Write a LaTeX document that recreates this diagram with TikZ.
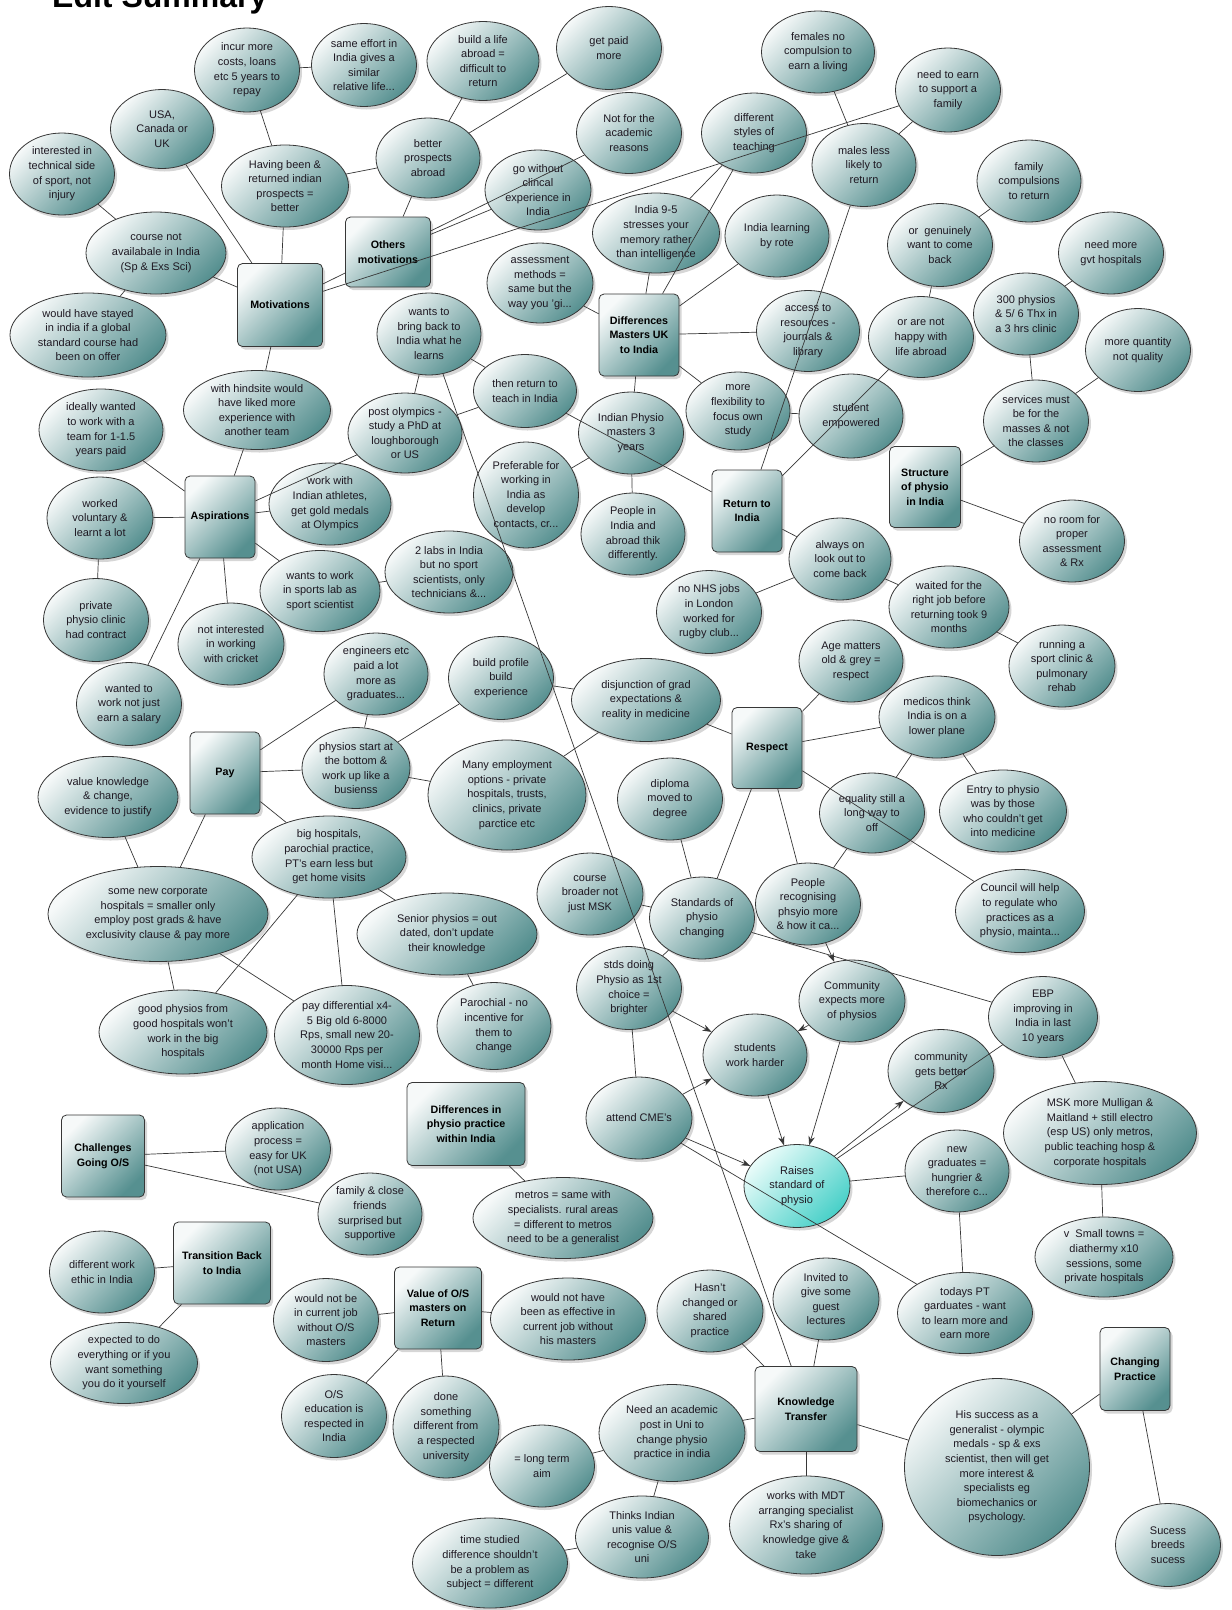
\documentclass[tikz,border=0pt]{standalone}
\usepackage{fontspec}
\setmainfont{Liberation Sans}
\usetikzlibrary{shapes.geometric,shadows,arrows.meta}
\definecolor{gA}{RGB}{246,249,249}
\definecolor{gB}{RGB}{190,213,213}
\definecolor{gC}{RGB}{86,144,144}
\definecolor{cA}{RGB}{234,252,250}
\definecolor{cB}{RGB}{170,240,234}
\definecolor{cC}{RGB}{72,208,200}
\definecolor{lnC}{RGB}{55,55,55}
\definecolor{txC}{RGB}{30,24,34}
\tikzset{
 shd/.style={drop shadow={shadow xshift=2.5pt,shadow yshift=-3pt,opacity=0.16,fill=black}},
 ell/.style={ellipse,draw=lnC,line width=0.8pt,inner sep=0pt,top color=gA,middle color=gB,bottom color=gC,shading angle=45,shd},
 cyell/.style={ellipse,draw=lnC,line width=0.8pt,inner sep=0pt,top color=cA,middle color=cB,bottom color=cC,shading angle=45,shd},
 bx/.style={rectangle,rounded corners=5pt,draw=lnC,line width=0.8pt,inner sep=0pt,top color=gA,middle color=gB,bottom color=gC,shading angle=45,shd},
 txt/.style={align=center,inner sep=0pt,text=txC,font=\fontsize{11pt}{14.6pt}\selectfont},
 btxt/.style={align=center,inner sep=0pt,text=black,font=\fontsize{10.7pt}{14.6pt}\selectfont\bfseries},
 ln/.style={draw=lnC,line width=0.7pt},
 ar/.style={draw=lnC,line width=0.7pt,-{Stealth[length=9pt,width=6.5pt]}},
}
\newcommand\mkell[6]{\node[ell,minimum width=#4pt,minimum height=#5pt] (#1) at (#2,#3) {};\node[txt] (#1t) at (#2,#3) {#6};}
\newcommand\mkcy[6]{\node[cyell,minimum width=#4pt,minimum height=#5pt] (#1) at (#2,#3) {};\node[txt] (#1t) at (#2,#3) {#6};}
\newcommand\mkbox[6]{\node[bx,minimum width=#4pt,minimum height=#5pt] (#1) at (#2,#3) {};\node[btxt] (#1t) at (#2,#3) {#6};}
\begin{document}
\begin{tikzpicture}[x=1pt,y=-1pt]
\useasboundingbox (0,0) rectangle (1232,1610);
\clip (0,0) rectangle (1232,1610);
\fill[white] (0,0) rectangle (1232,1610);
\node[anchor=base west,inner sep=0pt,font=\fontsize{32pt}{38pt}\selectfont\bfseries] (title) at (52,7) {Edit Summary};
% Motivations
\mkbox{mot}{280}{305}{85}{83}{Motivations}
\mkbox{oth}{388}{252}{85}{70}{Others\\motivations}
\mkell{incur}{247}{70}{105}{84}{incur more\\costs, loans\\etc 5 years to\\repay}
\mkell{same}{364}{65}{105}{83}{same effort in\\India gives a\\similar\\relative life...}
\mkell{usa}{162}{129}{103}{79}{USA,\\Canada or\\UK}
\mkell{inter}{62}{174}{105}{82}{interested in\\technical side\\of sport, not\\injury}
\mkell{having}{285}{186}{127}{82}{Having been \&\\returned indian\\prospects =\\better}
\mkell{course}{156}{253}{140}{82}{course not\\availabale in India\\(Sp \& Exs Sci)}
\mkell{stayed}{88}{335}{156}{84}{would have stayed\\in india if a global\\standard course had\\been on offer}
\mkell{hind}{257}{410}{147}{79}{with hindsite would\\have liked more\\experience with\\another team}
\mkell{better}{428}{158}{104}{80}{better\\prospects\\abroad}
\mkell{build}{483}{61}{112}{79}{build a life\\abroad =\\difficult to\\return}
\mkell{paid}{609}{48}{105}{83}{get paid\\more}
\mkell{notacad}{629}{133}{105}{81}{Not for the\\academic\\reasons}
\mkell{gowo}{538}{190}{106}{80}{go without\\clincal\\experience in\\India}
% Differences
\mkbox{diff}{639}{335}{80}{82}{Differences\\Masters UK\\to India}
\mkell{styles}{754}{133}{105}{80}{different\\styles of\\teaching}
\mkell{ind95}{656}{233}{127}{80}{India 9-5\\stresses your\\memory rather\\than intelligence}
\mkell{rote}{777}{236}{104}{82}{India learning\\by rote}
\mkell{assess}{540}{283}{106}{80}{assessment\\methods =\\same but the\\way you 'gi...}
\mkell{access}{808}{331}{103}{81}{access to\\resources -\\journals \&\\library}
\mkell{flex}{738}{411}{104}{78}{more\\flexibility to\\focus own\\study}
\mkell{wants}{429}{334}{104}{82}{wants to\\bring back to\\India what he\\learns}
\mkell{thenret}{525}{391}{103}{73}{then return to\\teach in India}
% right top
\mkell{fem}{818}{52}{113}{82}{females no\\compulsion to\\earn a living}
\mkell{earn}{948}{90}{105}{84}{need to earn\\to support a\\family}
\mkell{males}{864}{165}{104}{83}{males less\\likely to\\return}
\mkell{famc}{1029}{181}{104}{82}{family\\compulsions\\to return}
\mkell{genu}{940}{245}{105}{83}{or\ \ genuinely\\want to come\\back}
\mkell{nothappy}{921}{337}{105}{81}{or are not\\happy with\\life abroad}
\mkell{gvt}{1111}{253}{105}{82}{need more\\gvt hospitals}
\mkell{pthree}{1026}{314}{105}{82}{300 physios\\\& 5/ 6 Thx in\\a 3 hrs clinic}
\mkell{quant}{1138}{350}{105}{83}{more quantity\\not quality}
\mkell{serv}{1036}{421}{105}{82}{services must\\be for the\\masses \& not\\the classes}
\mkell{stud}{851}{416}{104}{84}{student\\empowered}
\mkbox{struct}{925}{487}{71}{81}{Structure\\of physio\\in India}
\mkell{noroom}{1072}{541}{105}{82}{no room for\\proper\\assessment\\\& Rx}
% Aspirations
\mkell{ideal}{101}{430}{124}{82}{ideally wanted\\to work with a\\team for 1-1.5\\years paid}
\mkbox{asp}{220}{517}{70}{82}{Aspirations}
\mkell{volun}{100}{518}{106}{82}{worked\\voluntary \&\\learnt a lot}
\mkell{gold}{330}{504}{122}{82}{work with\\Indian athletes,\\get gold medals\\at Olympics}
\mkell{privc}{96}{620}{105}{83}{private\\physio clinic\\had contract}
\mkell{cricket}{231}{644}{106}{82}{not interested\\in working\\with cricket}
\mkell{lab}{320}{591}{120}{81}{wants to work\\in sports lab as\\sport scientist}
\mkell{salary}{129}{704}{105}{83}{wanted to\\work not just\\earn a salary}
\mkell{postol}{405}{433}{114}{80}{post olympics -\\study a PhD at\\loughborough\\or US}
\mkell{labstwo}{449}{572}{128}{82}{2 labs in India\\but no sport\\scientists, only\\technicians \&...}
% Return
\mkell{indphys}{631}{433}{105}{82}{Indian Physio\\masters 3\\years}
\mkell{pref}{526}{495}{105}{106}{Preferable for\\working in\\India as\\develop\\contacts, cr...}
\mkell{people}{633}{534}{104}{82}{People in\\India and\\abroad thik\\differently.}
\mkbox{ret}{747}{511}{70}{82}{Return to\\India}
\mkell{always}{840}{559}{102}{82}{always on\\look out to\\come back}
\mkell{nhs}{709}{612}{105}{83}{no NHS jobs\\in London\\worked for\\rugby club...}
\mkell{waited}{949}{607}{120}{82}{waited for the\\right job before\\returning took 9\\months}
\mkell{running}{1062}{666}{106}{82}{running a\\sport clinic \&\\pulmonary\\rehab}
% Pay
\mkell{engin}{376}{674}{104}{82}{engineers etc\\paid a lot\\more as\\graduates...}
\mkbox{pay}{225}{773}{70}{82}{Pay}
\mkell{pstart}{356}{768}{108}{81}{physios start at\\the bottom \&\\work up like a\\busienss}
\mkell{value}{108}{797}{140}{81}{value knowledge\\\& change,\\evidence to justify}
\mkell{bighosp}{329}{857}{154}{82}{big hospitals,\\parochial practice,\\PT's earn less but\\get home visits}
\mkell{corp}{158}{914}{220}{95}{some new corporate\\hospitals = smaller only\\employ post grads \& have\\exclusivity clause \& pay more}
\mkell{senior}{447}{934}{180}{82}{Senior physios = out\\dated, don't update\\their knowledge}
\mkell{goodph}{183}{1032}{168}{84}{good physios from\\good hospitals won't\\work in the big\\hospitals}
\mkell{paydiff}{347}{1035}{145}{99}{pay differential x4-\\5 Big old 6-8000\\Rps, small new 20-\\30000 Rps per\\month Home visi...}
\mkell{parochial}{494}{1026}{114}{87}{Parochial - no\\incentive for\\them to\\change}
\mkell{buildprof}{501}{678}{105}{83}{build profile\\build\\experience}
\mkell{disj}{646}{700}{149}{83}{disjunction of grad\\expectations \&\\reality in medicine}
\mkell{many}{507}{795}{158}{110}{Many employment\\options - private\\hospitals, trusts,\\clinics, private\\parctice etc}
% Respect
\mkbox{resp}{767}{748}{70}{81}{Respect}
\mkell{age}{851}{661}{104}{82}{Age matters\\old \& grey =\\respect}
\mkell{medicos}{937}{717}{116}{82}{medicos think\\India is on a\\lower plane}
\mkell{entry}{1003}{811}{127}{82}{Entry to physio\\was by those\\who couldn't get\\into medicine}
\mkell{equal}{872}{813}{105}{80}{equality still a\\long way to\\off}
\mkell{council}{1020}{911}{129}{83}{Council will help\\to regulate who\\practices as a\\physio, mainta...}
\mkell{diploma}{670}{799}{105}{82}{diploma\\moved to\\degree}
\mkell{std}{702}{918}{105}{82}{Standards of\\physio\\changing}
\mkell{broad}{590}{894}{106}{82}{course\\broader not\\just MSK}
\mkell{recog}{808}{904}{105}{82}{People\\recognising\\phsyio more\\\& how it ca...}
\mkell{stds}{629}{988}{105}{83}{stds doing\\Physio as 1st\\choice =\\brighter}
\mkell{comm}{852}{1001}{106}{82}{Community\\expects more\\of physios}
\mkell{ebp}{1043}{1017}{109}{81}{EBP\\improving in\\India in last\\10 years}
\mkell{students}{755}{1055}{104}{82}{students\\work harder}
\mkell{cme}{639}{1118}{106}{82}{attend CME's}
\mkell{gets}{941}{1071}{106}{83}{community\\gets better\\Rx}
\mkcy{raises}{797}{1186}{106}{83}{Raises\\standard of\\physio}
\mkell{msk}{1100}{1133}{193}{103}{MSK more Mulligan \&\\Maitland + still electro\\(esp US) only metros,\\public teaching hosp \&\\corporate hospitals}
\mkell{newgrad}{957}{1171}{104}{82}{new\\graduates =\\hungrier \&\\therefore c...}
\mkell{small}{1104}{1257}{138}{80}{v\ \ Small towns =\\diathermy x10\\sessions, some\\private hospitals}
\mkell{todays}{965}{1313}{135}{81}{todays PT\\garduates - want\\to learn more and\\earn more}
% bottom left
\mkbox{chal}{103}{1156}{83}{82}{Challenges\\Going O/S}
\mkell{applic}{278}{1149}{105}{82}{application\\process =\\easy for UK\\(not USA)}
\mkell{family}{370}{1214}{104}{82}{family \& close\\friends\\surprised but\\supportive}
\mkbox{dpi}{466}{1124}{118}{83}{Differences in\\physio practice\\within India}
\mkell{metros}{563}{1218}{180}{81}{metros = same with\\specialists. rural areas\\= different to metros\\need to be a generalist}
\mkbox{trans}{222}{1263}{97}{82}{Transition Back\\to India}
\mkell{ethic}{102}{1272}{105}{82}{different work\\ethic in India}
\mkell{expect}{124}{1363}{147}{81}{expected to do\\everything or if you\\want something\\you do it yourself}
\mkbox{valos}{438}{1308}{87}{82}{Value of O/S\\masters on\\Return}
\mkell{wnb}{326}{1320}{105}{83}{would not be\\in current job\\without O/S\\masters}
\mkell{wnh}{568}{1319}{155}{82}{would not have\\been as effective in\\current job without\\his masters}
\mkell{osedu}{334}{1416}{105}{83}{O/S\\education is\\respected in\\India}
\mkell{done}{446}{1427}{106}{102}{done\\something\\different from\\a respected\\university}
\mkell{longterm}{542}{1466}{105}{82}{= long term\\aim}
\mkell{need}{672}{1433}{146}{97}{Need an academic\\post in Uni to\\change physio\\practice in india}
\mkell{thinks}{642}{1537}{133}{82}{Thinks Indian\\unis value \&\\recognise O/S\\uni}
\mkell{timest}{490}{1563}{155}{90}{time studied\\difference shouldn't\\be a problem as\\subject = different}
\mkell{hasnt}{710}{1311}{106}{82}{Hasn't\\changed or\\shared\\practice}
\mkell{invited}{826}{1299}{106}{82}{Invited to\\give some\\guest\\lectures}
\mkbox{kt}{806}{1409}{102}{85}{Knowledge\\Transfer}
\mkell{works}{806}{1525}{153}{98}{works with MDT\\arranging specialist\\Rx's sharing of\\knowledge give \&\\take}
\mkell{his}{997}{1467}{185}{177}{His success as a\\generalist - olympic\\medals - sp \& exs\\scientist, then will get\\more interest \&\\specialists eg\\biomechanics or\\psychology.}
\mkbox{chg}{1135}{1369}{70}{83}{Changing\\Practice}
\mkell{sucess}{1168}{1545}{105}{83}{Sucess\\breeds\\sucess}
% connectors
\draw[ln] (mot)--(usa); \draw[ln] (mot)--(having); \draw[ln] (mot)--(course);
\draw[ln] (mot)--(oth); \draw[ln] (mot)--(earn); \draw[ln] (mot)--(hind);
\draw[ln] (incur)--(same); \draw[ln] (incur)--(having); \draw[ln] (inter)--(course);
\draw[ln] (course)--(stayed); \draw[ln] (having)--(better); \draw[ln] (better)--(oth);
\draw[ln] (better)--(build); \draw[ln] (better)--(paid);
\draw[ln] (oth)--(gowo); \draw[ln] (oth)--(notacad);
\draw[ln] (wants)--(postol); \draw[ln] (wants)--(thenret); \draw[ln] (wants)--(kt);
\draw[ln] (postol)--(thenret); \draw[ln] (thenret)--(ret);
\draw[ln] (diff)--(ind95); \draw[ln] (diff)--(styles); \draw[ln] (diff)--(rote);
\draw[ln] (diff)--(access); \draw[ln] (diff)--(flex); \draw[ln] (diff)--(assess);
\draw[ln] (diff)--(indphys); \draw[ln] (ind95)--(styles);
\draw[ln] (fem)--(males); \draw[ln] (earn)--(males); \draw[ln] (males)--(ret);
\draw[ln] (famc)--(genu); \draw[ln] (genu)--(nothappy); \draw[ln] (nothappy)--(ret);
\draw[ln] (gvt)--(pthree); \draw[ln] (pthree)--(serv); \draw[ln] (serv)--(quant);
\draw[ln] (struct)--(serv); \draw[ln] (struct)--(noroom); \draw[ln] (flex)--(stud);
\draw[ln] (asp)--(ideal); \draw[ln] (asp)--(hind); \draw[ln] (asp)--(volun);
\draw[ln] (asp)--(gold); \draw[ln] (asp)--(postol); \draw[ln] (asp)--(lab);
\draw[ln] (asp)--(cricket); \draw[ln] (asp)--(salary); \draw[ln] (volun)--(privc);
\draw[ln] (lab)--(labstwo);
\draw[ln] (indphys)--(pref); \draw[ln] (indphys)--(people);
\draw[ln] (ret)--(always); \draw[ln] (nhs)--(always); \draw[ln] (always)--(waited);
\draw[ln] (waited)--(running);
\draw[ln] (pay)--(engin); \draw[ln] (pay)--(pstart); \draw[ln] (pay)--(corp);
\draw[ln] (pay)--(bighosp); \draw[ln] (engin)--(pstart); \draw[ln] (value)--(corp);
\draw[ln] (bighosp)--(senior); \draw[ln] (bighosp)--(goodph); \draw[ln] (bighosp)--(paydiff);
\draw[ln] (corp)--(goodph); \draw[ln] (corp)--(paydiff); \draw[ln] (senior)--(parochial);
\draw[ln] (buildprof)--(disj); \draw[ln] (buildprof)--(pstart); \draw[ln] (disj)--(resp);
\draw[ln] (disj)--(many); \draw[ln] (pstart)--(many);
\draw[ln] (resp)--(age); \draw[ln] (resp)--(medicos); \draw[ln] (resp)--(council);
\draw[ln] (resp)--(std); \draw[ln] (resp)--(recog); \draw[ln] (medicos)--(entry);
\draw[ln] (medicos)--(equal); \draw[ln] (recog)--(equal);
\draw[ln] (diploma)--(std); \draw[ln] (broad)--(std); \draw[ln] (std)--(stds);
\draw[ln] (std)--(ebp);
\draw[ar] (recog)--(comm); \draw[ar] (comm)--(students); \draw[ar] (comm)--(raises);
\draw[ar] (stds)--(students); \draw[ar] (cme)--(students); \draw[ar] (cme)--(raises);
\draw[ar] (students)--(raises); \draw[ar] (raises)--(gets);
\draw[ln] (stds)--(cme); \draw[ln] (cme)--(todays); \draw[ln] (raises)--(ebp);
\draw[ln] (raises)--(newgrad); \draw[ln] (ebp)--(msk); \draw[ln] (msk)--(small);
\draw[ln] (newgrad)--(todays);
\draw[ln] (chal)--(applic); \draw[ln] (chal)--(family); \draw[ln] (dpi)--(metros);
\draw[ln] (trans)--(ethic); \draw[ln] (trans)--(expect);
\draw[ln] (valos)--(wnb); \draw[ln] (valos)--(wnh); \draw[ln] (valos)--(done);
\draw[ln] (valos)--(osedu);
\draw[ln] (longterm)--(need); \draw[ln] (need)--(kt); \draw[ln] (need)--(thinks);
\draw[ln] (thinks)--(timest);
\draw[ln] (hasnt)--(kt); \draw[ln] (invited)--(kt); \draw[ln] (kt)--(works);
\draw[ln] (kt)--(his); \draw[ln] (his)--(chg); \draw[ln] (chg)--(sucess);
\end{tikzpicture}
\end{document}
